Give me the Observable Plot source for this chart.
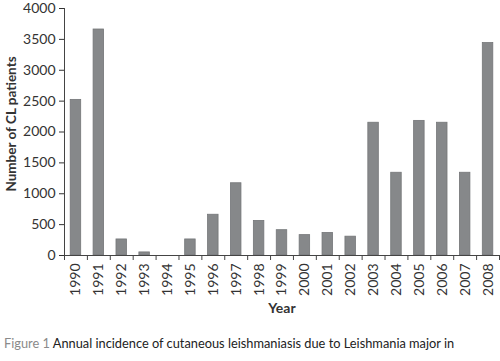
<!DOCTYPE html>
<html>
<head>
<meta charset="utf-8">
<script src="https://cdn.jsdelivr.net/npm/d3@7"></script>
<script src="https://cdn.jsdelivr.net/npm/@observablehq/plot@0.6"></script>
<style>
  body { margin: 0; background: #fff; font-family: Lato, sans-serif; }
  #cap { font-size: 12.8px; color: #222; padding-left: 4px; margin-top: 8px; white-space: nowrap; }
  #cap .fig { color: #8a8a8a; }
</style>
</head>
<body>
<div id="chart"></div>
<div id="cap"><span class="fig">Figure 1</span> Annual incidence of cutaneous leishmaniasis due to Leishmania major in</div>
<script>
const years = [1990,1991,1992,1993,1994,1995,1996,1997,1998,1999,2000,2001,2002,2003,2004,2005,2006,2007,2008];
const patients = [2520,3660,260,50,0,260,660,1170,560,410,330,365,305,2150,1340,2180,2150,1340,3440];
const yTicks = [0,500,1000,1500,2000,2500,3000,3500,4000];
const yLabel = "Number of CL patients";
const xLabel = "Year";

const data = years.map((y, i) => ({year: y, value: patients[i]}));
const bounds = years.map(y => y - 0.5).concat([years[years.length - 1] + 0.5]);

const chart = Plot.plot({
  width: 500,
  height: 327,
  marginLeft: 64,
  marginRight: 1,
  marginTop: 8,
  marginBottom: 72,
  style: {fontFamily: "Lato, sans-serif", fontSize: "14px", color: "#333"},
  x: {domain: [years[0] - 0.5, years[years.length - 1] + 0.5]},
  y: {domain: [0, 4000]},
  marks: [
    Plot.rect(data, {x1: d => d.year - 0.5, x2: d => d.year + 0.5, y1: 0, y2: "value", insetLeft: 6.2, insetRight: 6.2, fill: "#86888a", stroke: "#747678", strokeWidth: 0.8}),
    Plot.axisY({ticks: yTicks, tickFormat: d => String(d), tickSize: 5, tickPadding: 4, label: null, fontSize: 14, stroke: "#333"}),
    Plot.ruleX([years[0] - 0.5], {stroke: "#444"}),
    Plot.ruleY([0], {stroke: "#444"}),
    Plot.axisX({ticks: bounds, tickFormat: () => "", tickSize: 5, label: null, stroke: "#444"}),
    Plot.axisX({ticks: years, tickFormat: d => String(d), tickSize: 0, tickPadding: 8, tickRotate: -90, label: null, fontSize: 14}),
    Plot.text([yLabel], {frameAnchor: "left", textAnchor: "middle", dx: -53, dy: -8, rotate: -90, text: d => d, fontWeight: "bold", fontSize: 13.5, fill: "#333"}),
    Plot.text([xLabel], {frameAnchor: "bottom", dy: 57, text: d => d, fontWeight: "bold", fontSize: 14, fill: "#333"})
  ]
});
document.getElementById("chart").appendChild(chart);
</script>
</body>
</html>
